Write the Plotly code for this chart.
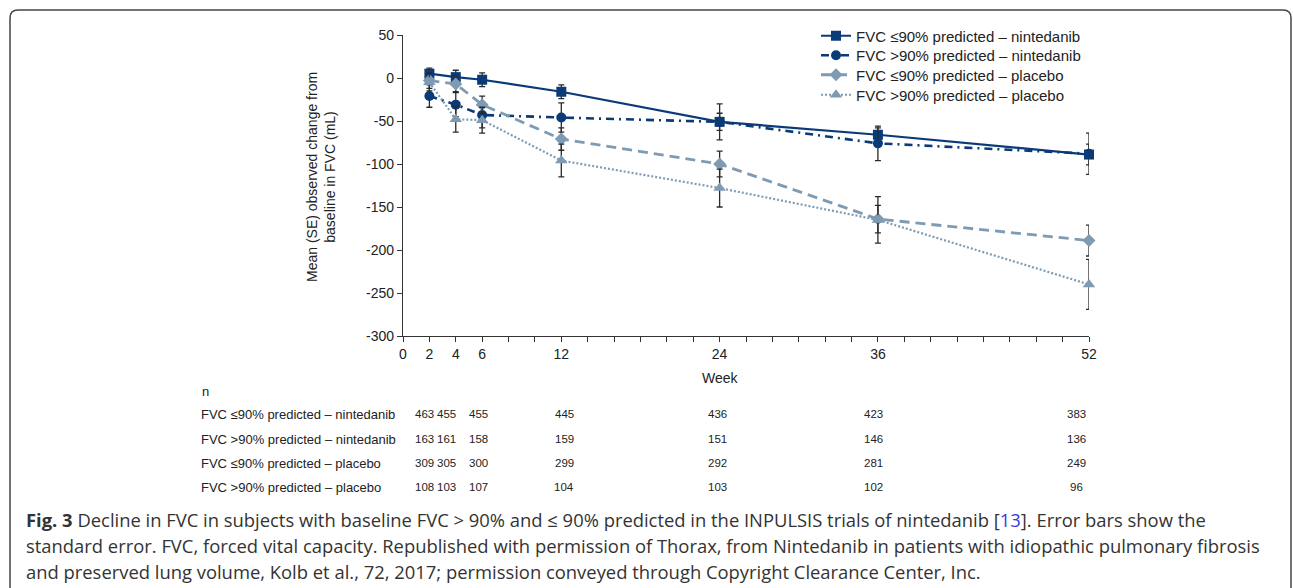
import plotly.graph_objects as go

# ---------------- data ----------------
weeks = [2, 4, 6, 12, 24, 36, 52]

series_names = [
    "FVC ≤90% predicted – nintedanib",
    "FVC >90% predicted – nintedanib",
    "FVC ≤90% predicted – placebo",
    "FVC >90% predicted – placebo",
]

le90_nin = [5, 1, -2, -16, -51, -66, -89]
le90_nin_se = [6.5, 8, 8, 8, 10, 8, 12]

gt90_nin = [-21, -31, -43, -46, -51, -76, -88]
gt90_nin_se = [13, 14, 15, 17, 21, 20, 24]

le90_pbo = [-3, -7, -31, -71, -100, -164, -189]
le90_pbo_se = [9, 9, 10, 13, 15, 16, 18]

gt90_pbo = [-5, -48, -49, -96, -128, -165, -240]
gt90_pbo_se = [10, 15, 15, 19, 22, 27, 29]

n_le90_nin = [463, 455, 455, 445, 436, 423, 383]
n_gt90_nin = [163, 161, 158, 159, 151, 146, 136]
n_le90_pbo = [309, 305, 300, 299, 292, 281, 249]
n_gt90_pbo = [108, 103, 107, 104, 103, 102, 96]

y_tickvals = [50, 0, -50, -100, -150, -200, -250, -300]
y_ticktext = ["50", "0", "-50", "-100", "-150", "-200", "-250", "-300"]
x_tickvals = list(range(0, 54, 2))
x_labelled = [0, 2, 4, 6, 12, 24, 36, 52]

caption_lines = [
    "<b>Fig. 3</b> Decline in FVC in subjects with baseline FVC &gt; 90% and ≤ 90% predicted in the INPULSIS trials of nintedanib "
    "[<span style='color:#3a3ae8'>13</span>]. Error bars show the",
    "standard error. FVC, forced vital capacity. Republished with permission of Thorax, from Nintedanib in patients with idiopathic pulmonary fibrosis",
    "and preserved lung volume, Kolb et al., 72, 2017; permission conveyed through Copyright Clearance Center, Inc.",
]

# ---------------- styles ----------------
W, H = 1293, 588
L, R, T, B = 403, 1089, 35, 336
PW, PH = R - L, B - T


def px2x(px):
    return (px - L) / PW


def py2y(py):
    return (B - py) / PH


NAVY = "#0a3a78"
STEEL = "#7e9bb3"
ERR = "#2a2a2a"
FONT = "Liberation Sans, Arial, sans-serif"

styles = [
    dict(color=NAVY, dash="solid", width=2.2, symbol="square", size=10),
    dict(color=NAVY, dash="8px,5px,2px,5px", width=2.6, symbol="circle", size=10),
    dict(color=STEEL, dash="10px,6px", width=2.8, symbol="diamond", size=10),
    dict(color=STEEL, dash="2px,2px", width=2.2, symbol="triangle-up", size=11),
]
legend_ids = ["legend", "legend2", "legend3", "legend4"]
legend_rows = [36, 55.5, 75, 95]

values = [le90_nin, gt90_nin, le90_pbo, gt90_pbo]
ses = [le90_nin_se, gt90_nin_se, le90_pbo_se, gt90_pbo_se]
counts = [n_le90_nin, n_gt90_nin, n_le90_pbo, n_gt90_pbo]

fig = go.Figure()
for name, vals, se, st, lg in zip(series_names, values, ses, styles, legend_ids):
    fig.add_trace(go.Scatter(
        x=weeks, y=vals, name=name, mode="lines+markers", legend=lg,
        line=dict(color=st["color"], dash=st["dash"], width=st["width"]),
        marker=dict(symbol=st["symbol"], size=st["size"], color=st["color"]),
        error_y=dict(type="data", array=se, visible=True, color=ERR, thickness=1.3, width=3),
        cliponaxis=False,
    ))

x_ticktext = [str(v) if v in x_labelled else "" for v in x_tickvals]

legend_layout = {}
for lg, ry in zip(legend_ids, legend_rows):
    legend_layout[lg] = dict(
        x=px2x(816), y=py2y(ry), xanchor="left", yanchor="middle",
        bgcolor="rgba(0,0,0,0)", font=dict(size=15, family=FONT, color="#222"),
        itemwidth=30, tracegroupgap=0,
    )

fig.update_layout(
    width=W, height=H,
    margin=dict(l=L, r=W - R, t=T, b=H - B, pad=0),
    paper_bgcolor="white", plot_bgcolor="white",
    font=dict(family=FONT, size=14, color="#222"),
    showlegend=True,
    **legend_layout,
    xaxis=dict(
        range=[0, 52], tickmode="array", tickvals=x_tickvals, ticktext=x_ticktext,
        showline=True, linecolor="#333", linewidth=1.2, ticks="outside", ticklen=5,
        tickcolor="#333", showgrid=False, zeroline=False,
        tickfont=dict(size=14, family=FONT, color="#222"),
    ),
    yaxis=dict(
        range=[-300, 50], tickmode="array", tickvals=y_tickvals, ticktext=y_ticktext,
        showline=True, linecolor="#333", linewidth=1.2, ticks="outside", ticklen=5,
        tickcolor="#333", showgrid=False, zeroline=False,
        tickfont=dict(size=14, family=FONT, color="#222"),
    ),
)

ann = []
# axis titles
ann.append(dict(text="Mean (SE) observed change from<br>baseline in FVC (mL)", textangle=-90,
                xref="paper", yref="paper", x=px2x(321), y=py2y(177), xanchor="center", yanchor="middle",
                showarrow=False, font=dict(size=14, family=FONT, color="#222")))
ann.append(dict(text="Week", xref="paper", yref="paper", x=px2x(720), y=py2y(378),
                xanchor="center", yanchor="middle", showarrow=False,
                font=dict(size=14, family=FONT, color="#222")))

# n table
row_y = [414, 439, 463, 487]
col_shift = [-5, -9, -4, 3, -2, -4, -13]
ann.append(dict(text="n", xref="paper", yref="paper", x=px2x(200), y=py2y(391), xanchor="left",
                yanchor="middle", showarrow=False, font=dict(size=13, family=FONT, color="#222")))
for name, cnt, ry in zip(series_names, counts, row_y):
    ann.append(dict(text=name, xref="paper", yref="paper", x=px2x(199), y=py2y(ry), xanchor="left",
                    yanchor="middle", showarrow=False, font=dict(size=13, family=FONT, color="#222")))
    for wk, c, sh in zip(weeks, cnt, col_shift):
        ann.append(dict(text=str(c), xref="x", yref="paper", x=wk, xshift=sh, y=py2y(ry),
                        xanchor="center", yanchor="middle", showarrow=False,
                        font=dict(size=11.5, family=FONT, color="#222")))

# caption
cap_y = [519, 545, 571]
for line, cy in zip(caption_lines, cap_y):
    ann.append(dict(text=line, xref="paper", yref="paper", x=px2x(24), y=py2y(cy), xanchor="left",
                    yanchor="middle", showarrow=False,
                    font=dict(size=18.4, family="Open Sans, sans-serif", color="#333")))

fig.update_layout(annotations=ann)

# outer rounded frame
x0, x1, y0, y1, r = 10, 1291, 10, 640, 8
path = (f"M {px2x(x0)},{py2y(y1)} L {px2x(x0)},{py2y(y0 + r)} "
        f"Q {px2x(x0)},{py2y(y0)} {px2x(x0 + r)},{py2y(y0)} "
        f"L {px2x(x1 - r)},{py2y(y0)} Q {px2x(x1)},{py2y(y0)} {px2x(x1)},{py2y(y0 + r)} "
        f"L {px2x(x1)},{py2y(y1)}")
fig.add_shape(type="path", path=path, xref="paper", yref="paper",
              line=dict(color="#444", width=1.5), layer="below")

fig.write_html("out.html", config={"displayModeBar": False},
               post_script="document.body.style.margin='0';document.body.style.overflow='hidden';")
